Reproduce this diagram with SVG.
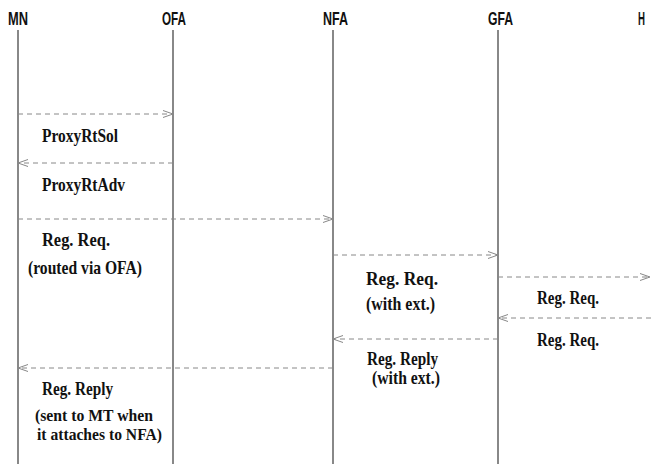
<svg xmlns="http://www.w3.org/2000/svg" width="651" height="473" viewBox="0 0 651 473">
  <style>
    .head { font-family: "Liberation Sans", Arial, sans-serif; font-weight: bold; font-size: 18px; fill: #111; }
    .life { stroke: #606060; stroke-width: 1.5; fill: none; }
    .msg { stroke: #888; stroke-width: 1; stroke-dasharray: 5 4; fill: none; }
    .lbl { font-family: "Liberation Serif", "Times New Roman", serif; font-weight: bold; font-size: 19px; fill: #111; }
    .note { font-size: 17px; }
  </style>
  <defs>
    <marker id="open" viewBox="0 0 10 8" refX="10" refY="4" markerWidth="10" markerHeight="8" markerUnits="userSpaceOnUse" orient="auto">
      <path d="M0,0.5 L10,4 L0,7.5" fill="none" stroke="#888" stroke-width="1"/>
    </marker>
  </defs>
  <rect width="651" height="473" fill="#fff"/>

  <!-- entities with their lifelines -->
  <g id="MN">
    <text class="head" x="8" y="25" textLength="20" lengthAdjust="spacingAndGlyphs">MN</text>
    <line class="life" x1="18" y1="30" x2="18" y2="464"/>
  </g>
  <g id="OFA">
    <text class="head" x="162" y="25" textLength="24" lengthAdjust="spacingAndGlyphs">OFA</text>
    <line class="life" x1="173" y1="30" x2="173" y2="464"/>
  </g>
  <g id="NFA">
    <text class="head" x="323" y="25" textLength="25" lengthAdjust="spacingAndGlyphs">NFA</text>
    <line class="life" x1="333" y1="30" x2="333" y2="464"/>
  </g>
  <g id="GFA">
    <text class="head" x="488" y="25" textLength="25" lengthAdjust="spacingAndGlyphs">GFA</text>
    <line class="life" x1="498" y1="30" x2="498" y2="464"/>
  </g>
  <g id="HA">
    <text class="head" x="638" y="25" textLength="7" lengthAdjust="spacingAndGlyphs">H</text>
  </g>

  <!-- messages -->
  <g id="connectors">
    <line class="msg" x1="18" y1="114" x2="173" y2="114" marker-end="url(#open)"/>
    <line class="msg" x1="173" y1="163" x2="18" y2="163" marker-end="url(#open)"/>
    <line class="msg" x1="18" y1="219" x2="333" y2="219" marker-end="url(#open)"/>
    <line class="msg" x1="333" y1="255" x2="498" y2="255" marker-end="url(#open)"/>
    <line class="msg" x1="498" y1="277" x2="650" y2="277" marker-end="url(#open)"/>
    <line class="msg" x1="651" y1="318" x2="498" y2="318" marker-end="url(#open)"/>
    <line class="msg" x1="498" y1="339" x2="333" y2="339" marker-end="url(#open)"/>
    <line class="msg" x1="333" y1="368" x2="18" y2="368" marker-end="url(#open)"/>
  </g>

  <!-- message labels -->
  <g id="labels">
    <text class="lbl" x="42" y="142" textLength="76" lengthAdjust="spacingAndGlyphs">ProxyRtSol</text>
    <text class="lbl" x="42" y="191" textLength="83" lengthAdjust="spacingAndGlyphs">ProxyRtAdv</text>
    <text class="lbl" x="42" y="246" textLength="68" lengthAdjust="spacingAndGlyphs">Reg. Req.</text>
    <text class="lbl" x="28" y="274" textLength="114" lengthAdjust="spacingAndGlyphs">(routed via OFA)</text>
    <text class="lbl" x="366" y="285" textLength="72" lengthAdjust="spacingAndGlyphs">Reg. Req.</text>
    <text class="lbl" x="366" y="310" textLength="69" lengthAdjust="spacingAndGlyphs">(with ext.)</text>
    <text class="lbl" x="537" y="304" textLength="62" lengthAdjust="spacingAndGlyphs">Reg. Req.</text>
    <text class="lbl" x="537" y="346" textLength="62" lengthAdjust="spacingAndGlyphs">Reg. Req.</text>
    <text class="lbl" x="367" y="365" textLength="71" lengthAdjust="spacingAndGlyphs">Reg. Reply</text>
    <text class="lbl" x="372" y="384" textLength="68" lengthAdjust="spacingAndGlyphs">(with ext.)</text>
    <text class="lbl" x="42" y="395" textLength="71" lengthAdjust="spacingAndGlyphs">Reg. Reply</text>
    <text class="lbl note" x="35" y="421" textLength="118" lengthAdjust="spacingAndGlyphs">(sent to MT when</text>
    <text class="lbl note" x="37" y="440" textLength="125" lengthAdjust="spacingAndGlyphs">it attaches to NFA)</text>
  </g>
</svg>
